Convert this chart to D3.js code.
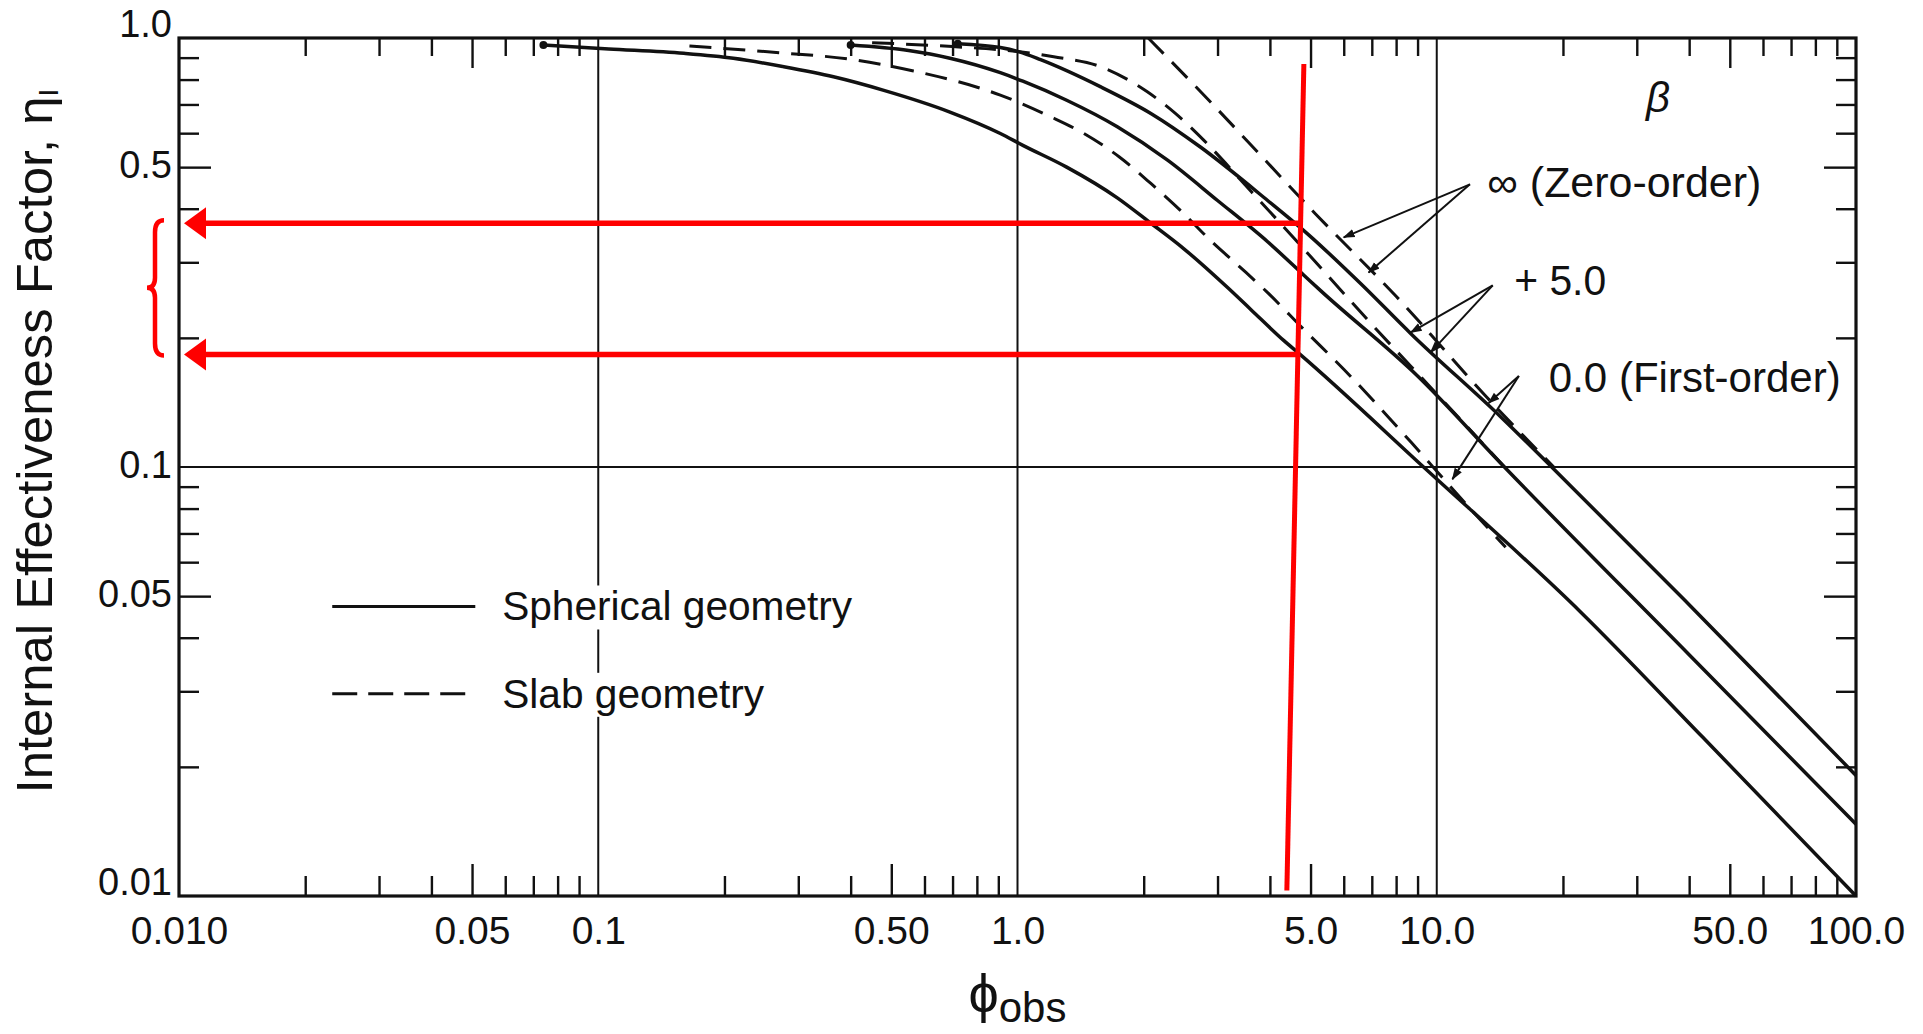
<!DOCTYPE html>
<html>
<head>
<meta charset="utf-8">
<script src="https://cdn.jsdelivr.net/npm/d3@7"></script>
<style>
  body { margin: 0; background: #fff; }
  svg { display: block; }
  text { font-family: "Liberation Sans", Arial, sans-serif; fill: #111; }
</style>
</head>
<body>
<svg id="chart" width="1923" height="1034"></svg>
<script>
// axis ticks and labels
const phiTicks = [0.01, 0.05, 0.1, 0.5, 1, 5, 10, 50, 100];
const phiTickLabels = ["0.010", "0.05", "0.1", "0.50", "1.0", "5.0", "10.0", "50.0", "100.0"];
const etaTicks = [1, 0.5, 0.1, 0.05, 0.01];
const etaTickLabels = ["1.0", "0.5", "0.1", "0.05", "0.01"];
const phiGrid = [0.1, 1, 10];
const etaGrid = [0.1];
const phiDecades = [0.01, 0.1, 1, 10];
const etaDecades = [0.01, 0.1];

// spherical geometry (solid), [phi, eta]
const sphereZero = [[0.72, 0.97], [0.91, 0.95], [1.01, 0.928], [1.135, 0.89], [1.58, 0.769], [2.08, 0.667],
  [2.73, 0.557], [3.95, 0.418], [4.91, 0.35], [6.6, 0.267], [8.7, 0.204], [14.2, 0.131], [18.8, 0.1],
  [39, 0.049], [100, 0.0191]];
const sphereBeta5 = [[0.40, 0.963], [0.55, 0.935], [0.69, 0.897], [0.91, 0.83], [1.03, 0.793], [1.31, 0.716],
  [1.73, 0.621], [2.28, 0.519], [3.0, 0.418], [3.95, 0.335], [4.82, 0.28], [5.3, 0.257], [9.0, 0.163],
  [14.5, 0.1], [40, 0.0365], [100, 0.0147]];
const sphereFirst = [[0.074, 0.963], [0.106, 0.943], [0.16, 0.921], [0.21, 0.897], [0.277, 0.857], [0.364, 0.812],
  [0.48, 0.755], [0.69, 0.672], [0.91, 0.599], [1.03, 0.562], [1.31, 0.5], [1.73, 0.424], [2.08, 0.37],
  [2.49, 0.323], [3.17, 0.262], [3.6, 0.233], [4.32, 0.197], [4.69, 0.184], [9.3, 0.1], [22, 0.046],
  [43, 0.0235], [100, 0.01]];

// slab geometry (dashed)
const slabZero = [[2.05, 1.0], [2.86, 0.716], [3.8, 0.533], [5.14, 0.389], [8.0, 0.25], [13.2, 0.145], [19, 0.1]];
const slabBeta5 = [[0.45, 0.975], [0.7, 0.955], [1.0, 0.93], [1.22, 0.904], [1.58, 0.857], [2.04, 0.749],
  [2.38, 0.667], [2.78, 0.578], [3.6, 0.44], [4.74, 0.328], [7, 0.215], [10, 0.148], [14.5, 0.1]];
const slabFirst = [[0.165, 0.958], [0.27, 0.924], [0.40, 0.892], [0.565, 0.838], [0.91, 0.736], [1.2, 0.655],
  [1.44, 0.599], [1.75, 0.528], [2.08, 0.458], [2.45, 0.396], [2.89, 0.337], [3.4, 0.292], [3.95, 0.255],
  [4.8, 0.21], [6.0, 0.169], [8.7, 0.114], [11, 0.088], [14.6, 0.065]];

// beta labels and their pointers
const betaLabels = ["\u221E (Zero-order)", "+ 5.0", "0.0 (First-order)"];
const betaLabelAt = [[13.2, 0.462], [15.3, 0.273], [18.5, 0.162]];
const betaLabelWidth = [274, 92, 292];
const betaPointers = [
  [[12.0, 0.456], [6.0, 0.343]], [[12.0, 0.456], [6.88, 0.284]],
  [[13.6, 0.265], [8.67, 0.206]], [[13.6, 0.265], [9.67, 0.185]],
  [[15.7, 0.163], [13.3, 0.141]], [[15.7, 0.163], [10.9, 0.0937]]
];

// red reading annotation
const redVertical = [[4.82, 0.87], [4.39, 0.0103]];
const etaRead = [0.37, 0.183];
const phiReadFrom = [4.73, 4.66];

const svg = d3.select("#chart");
const ink = "#111";
const red = "#ff0000";

const x = d3.scaleLog().domain([0.01, 100]).range([179, 1856]);
const y = d3.scaleLog().domain([0.01, 1]).range([896, 38]);

// grid
svg.append("g").selectAll("line").data(phiGrid).join("line")
  .attr("x1", d => x(d)).attr("x2", d => x(d))
  .attr("y1", y(1)).attr("y2", y(0.01))
  .attr("stroke", ink).attr("stroke-width", 2);
svg.append("g").selectAll("line").data(etaGrid).join("line")
  .attr("x1", x(0.01)).attr("x2", x(100))
  .attr("y1", d => y(d)).attr("y2", d => y(d))
  .attr("stroke", ink).attr("stroke-width", 2);

// inward minor ticks on all four sides
const phiMinor = phiDecades.flatMap(d => [2, 3, 4, 6, 7, 8, 9].map(k => k * d));
const phiMid = phiDecades.map(d => 5 * d);
const etaMinor = etaDecades.flatMap(d => [2, 3, 4, 6, 7, 8, 9].map(k => k * d));
const etaMid = etaDecades.map(d => 5 * d);

function tickAxis(axis, vals, len, transform) {
  const g = svg.append("g").attr("transform", transform)
    .call(axis.tickValues(vals).tickSize(-len).tickFormat(""));
  g.select(".domain").remove();
  g.selectAll("line").attr("stroke", ink).attr("stroke-width", 2.4);
}
tickAxis(d3.axisBottom(x), phiMinor, 20, `translate(0,${y(0.01)})`);
tickAxis(d3.axisBottom(x), phiMid, 32, `translate(0,${y(0.01)})`);
tickAxis(d3.axisTop(x), phiMinor, 18, `translate(0,${y(1)})`);
tickAxis(d3.axisTop(x), phiMid, 30, `translate(0,${y(1)})`);
tickAxis(d3.axisLeft(y), etaMinor, 20, `translate(${x(0.01)},0)`);
tickAxis(d3.axisLeft(y), etaMid, 32, `translate(${x(0.01)},0)`);
tickAxis(d3.axisRight(y), etaMinor, 20, `translate(${x(100)},0)`);
tickAxis(d3.axisRight(y), etaMid, 32, `translate(${x(100)},0)`);

// frame
svg.append("rect")
  .attr("x", x(0.01)).attr("y", y(1))
  .attr("width", x(100) - x(0.01)).attr("height", y(0.01) - y(1))
  .attr("fill", "none").attr("stroke", ink).attr("stroke-width", 3.2);

// tick labels
const gx = svg.append("g").attr("transform", `translate(0,${y(0.01)})`)
  .call(d3.axisBottom(x).tickValues(phiTicks).tickSize(0).tickPadding(20)
    .tickFormat((d, i) => phiTickLabels[i]));
gx.select(".domain").remove();
gx.selectAll("text").style("font-family", '"Liberation Sans", Arial, sans-serif')
  .style("font-size", "39px").attr("fill", ink);

const gy = svg.append("g").attr("transform", `translate(${x(0.01)},0)`)
  .call(d3.axisLeft(y).tickValues(etaTicks).tickSize(0).tickPadding(7)
    .tickFormat((d, i) => etaTickLabels[i]));
gy.select(".domain").remove();
gy.selectAll("text").style("font-family", '"Liberation Sans", Arial, sans-serif')
  .style("font-size", "38px").attr("fill", ink)
  .attr("y", d => (d === 1 || d === 0.01) ? -14 : -2);

// legend
const legendRows = [
  { label: "Spherical geometry", eta: 0.0473, width: 350, dash: null },
  { label: "Slab geometry", eta: 0.0296, width: 262, dash: "25,11" }
];
const legend = svg.append("g");
legendRows.forEach(r => {
  legend.append("line")
    .attr("x1", x(0.0232)).attr("x2", x(0.0509))
    .attr("y1", y(r.eta)).attr("y2", y(r.eta))
    .attr("stroke", ink).attr("stroke-width", 3)
    .attr("stroke-dasharray", r.dash);
  const t = legend.append("text")
    .attr("x", x(0.059)).attr("y", y(r.eta) + 14)
    .attr("font-size", 41)
    .attr("textLength", r.width).attr("lengthAdjust", "spacingAndGlyphs")
    .text(r.label);
  const b = t.node().getBBox();
  legend.insert("rect", "text")
    .attr("x", b.x - 6).attr("y", b.y + 2)
    .attr("width", b.width + 12).attr("height", b.height - 2)
    .attr("fill", "#fff");
});

// curves
const line = d3.line().x(d => x(d[0])).y(d => y(d[1])).curve(d3.curveMonotoneX);
const curves = [
  { data: sphereFirst, dash: null }, { data: sphereBeta5, dash: null }, { data: sphereZero, dash: null },
  { data: slabFirst, dash: "22,12" }, { data: slabBeta5, dash: "22,12" }, { data: slabZero, dash: "22,12" }
];
svg.append("g").selectAll("path").data(curves).join("path")
  .attr("d", d => line(d.data))
  .attr("fill", "none").attr("stroke", ink)
  .attr("stroke-width", d => d.dash ? 3 : 3.5)
  .attr("stroke-dasharray", d => d.dash);

// start beads of the spherical curves
svg.append("g").selectAll("circle").data([sphereFirst, sphereBeta5, sphereZero]).join("circle")
  .attr("cx", d => x(d[0][0])).attr("cy", d => y(d[0][1]))
  .attr("r", 4).attr("fill", ink);

// beta labels
svg.append("defs").append("marker")
  .attr("id", "tip").attr("viewBox", "0 0 10 10")
  .attr("refX", 9).attr("refY", 5)
  .attr("markerWidth", 6).attr("markerHeight", 6)
  .attr("orient", "auto")
  .append("path").attr("d", "M0,1.5L10,5L0,8.5z").attr("fill", ink);

svg.append("g").selectAll("line").data(betaPointers).join("line")
  .attr("x1", d => x(d[0][0])).attr("y1", d => y(d[0][1]))
  .attr("x2", d => x(d[1][0])).attr("y2", d => y(d[1][1]))
  .attr("stroke", ink).attr("stroke-width", 2)
  .attr("marker-end", "url(#tip)");

svg.append("g").selectAll("text").data(betaLabels).join("text")
  .attr("x", (d, i) => x(betaLabelAt[i][0]))
  .attr("y", (d, i) => y(betaLabelAt[i][1]))
  .attr("dy", "0.36em")
  .attr("font-size", 42)
  .attr("textLength", (d, i) => betaLabelWidth[i]).attr("lengthAdjust", "spacingAndGlyphs")
  .text(d => d);

svg.append("text")
  .attr("x", x(33.7)).attr("y", y(0.73))
  .attr("dy", "0.36em").attr("text-anchor", "middle")
  .attr("font-size", 42).attr("font-style", "italic")
  .text("\u03B2");

// axis titles
const xt = svg.append("text")
  .attr("x", x(1)).attr("y", 1012)
  .attr("text-anchor", "middle")
  .attr("font-size", 54);
xt.append("tspan").text("\u03D5");
xt.append("tspan").attr("font-size", 42).attr("dy", 10).text("obs");

const yt = svg.append("text")
  .attr("transform", `translate(52,${(y(1) + y(0.01)) / 2 - 26}) rotate(-90)`)
  .attr("text-anchor", "middle")
  .attr("font-size", 50)
  .attr("textLength", 705).attr("lengthAdjust", "spacingAndGlyphs");
yt.append("tspan").text("Internal Effectiveness Factor, \u03B7");
yt.append("tspan").attr("font-size", 28).attr("dy", 6).text("I");

// red reading annotation
svg.append("line")
  .attr("x1", x(redVertical[0][0])).attr("y1", y(redVertical[0][1]))
  .attr("x2", x(redVertical[1][0])).attr("y2", y(redVertical[1][1]))
  .attr("stroke", red).attr("stroke-width", 5);

const tipX = x(0.01) + 5;
etaRead.forEach((e, i) => {
  svg.append("line")
    .attr("x1", x(phiReadFrom[i])).attr("x2", tipX + 16)
    .attr("y1", y(e)).attr("y2", y(e))
    .attr("stroke", red).attr("stroke-width", 5.5);
  svg.append("path")
    .attr("d", `M${tipX},${y(e)}L${tipX + 22},${y(e) - 16}L${tipX + 22},${y(e) + 16}Z`)
    .attr("fill", red);
});

const bx = x(0.01) - 24, bTop = y(etaRead[0]) - 3, bBot = y(etaRead[1]) + 1, bMid = (bTop + bBot) / 2;
svg.append("path")
  .attr("d", `M${bx + 9},${bTop} Q${bx},${bTop} ${bx},${bTop + 12} L${bx},${bMid - 10} Q${bx},${bMid} ${bx - 8},${bMid}`
    + ` Q${bx},${bMid} ${bx},${bMid + 10} L${bx},${bBot - 12} Q${bx},${bBot} ${bx + 9},${bBot}`)
  .attr("fill", "none").attr("stroke", red).attr("stroke-width", 4.5);
</script>
</body>
</html>
